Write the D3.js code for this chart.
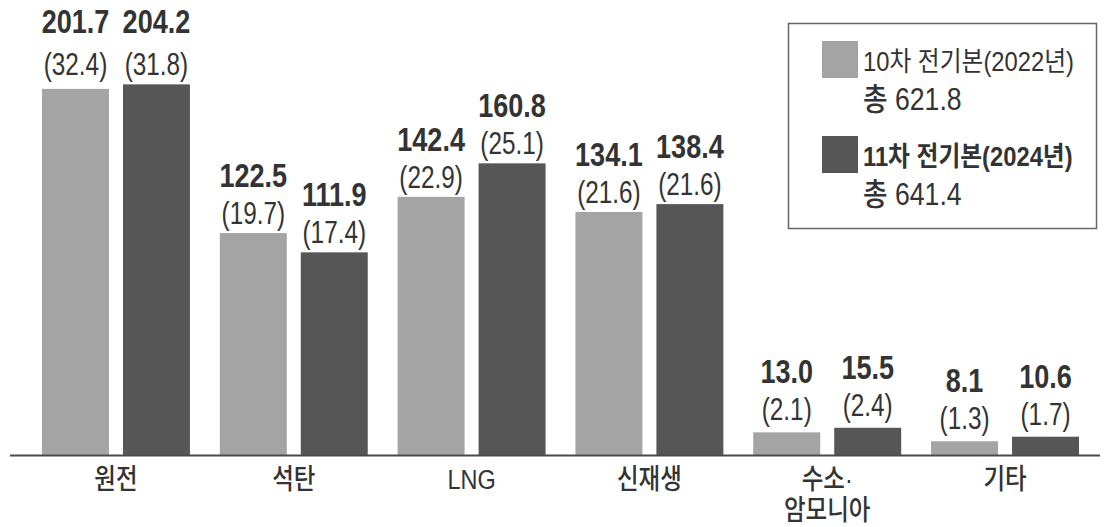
<!DOCTYPE html>
<html>
<head>
<meta charset="utf-8">
<script src="https://cdn.jsdelivr.net/npm/d3@7"></script>
<style>
  html, body { margin: 0; padding: 0; background: #fff; }
  svg { display: block; }
</style>
</head>
<body>
<svg id="chart" width="1108" height="527"></svg>
<script>
// ---- data ----
const categories = ["원전", "석탄", "LNG", "신재생", "수소·\n암모니아", "기타"];
const seriesNames = ["10차 전기본(2022년)", "11차 전기본(2024년)"];
const seriesTotals = ["총 621.8", "총 641.4"];
const values10 = [201.7, 122.5, 142.4, 134.1, 13.0, 8.1];
const values11 = [204.2, 111.9, 160.8, 138.4, 15.5, 10.6];
const shares10 = [32.4, 19.7, 22.9, 21.6, 2.1, 1.3];
const shares11 = [31.8, 17.4, 25.1, 21.6, 2.4, 1.7];

// ---- layout / style ----
const W = 1108, H = 527;
const baseY = 456;
const pxPerUnit = 1.82;
const colors = ["#a4a4a4", "#565656"];
const textColor = "#333";
const FONT = "'Liberation Sans', Arial, 'Noto Sans CJK KR', sans-serif";

const svg = d3.select("#chart");

const x0 = d3.scaleBand().domain(categories).range([42, 1079]).paddingInner(0.168).paddingOuter(0);
const x1 = d3.scaleBand().domain([0, 1]).range([0, x0.bandwidth()]).paddingInner(0.173).paddingOuter(0);
const yMax = 220;
const y = d3.scaleLinear().domain([0, yMax]).range([baseY, baseY - yMax * pxPerUnit]);

const rows = categories.map((c, i) => ({
  cat: c,
  vals: [values10[i], values11[i]],
  shares: [shares10[i], shares11[i]]
}));

// bars
const groups = svg.append("g").selectAll("g").data(rows).join("g")
  .attr("transform", d => `translate(${x0(d.cat)},0)`);

groups.selectAll("rect").data(d => d.vals.map((v, k) => ({ v, k }))).join("rect")
  .attr("x", d => x1(d.k))
  .attr("width", x1.bandwidth())
  .attr("y", d => y(d.v))
  .attr("height", d => baseY - y(d.v))
  .attr("fill", d => colors[d.k]);

// value labels
groups.each(function (d, gi) {
  const g = d3.select(this);
  // the first group's labels are aligned to the taller bar
  const alignGroup = gi === 0;
  const groupTop = y(d3.max(d.vals));
  d.vals.forEach((v, k) => {
    const top = alignGroup ? groupTop : y(v);
    const cx = x1(k) + x1.bandwidth() / 2;
    const parenY = top - (v < 20 ? 12 : 9);
    const mainY = parenY - (alignGroup ? 42 : 37);
    g.append("text")
      .attr("transform", `translate(${cx},${mainY}) scale(0.82,1)`)
      .attr("text-anchor", "middle")
      .attr("font-family", FONT)
      .attr("font-weight", "bold")
      .attr("font-size", 33)
      .attr("fill", textColor)
      .text(d3.format(".1f")(v));
    g.append("text")
      .attr("transform", `translate(${cx},${parenY}) scale(0.76,1)`)
      .attr("text-anchor", "middle")
      .attr("font-family", FONT)
      .attr("font-size", 32)
      .attr("fill", textColor)
      .text(`(${d3.format(".1f")(d.shares[k])})`);
  });
});

// axis line
svg.append("line")
  .attr("x1", 10).attr("x2", 1100)
  .attr("y1", baseY - 0.5).attr("y2", baseY - 0.5)
  .attr("stroke", "#4a4a4a").attr("stroke-width", 2);

// category labels
const xAxis = d3.axisBottom(x0).tickSize(0).tickPadding(0);
const axisG = svg.append("g").attr("transform", `translate(0,${baseY})`).call(xAxis);
axisG.select(".domain").remove();
axisG.selectAll(".tick text").each(function (d) {
  const t = d3.select(this);
  const lines = d.split("\n");
  t.text(null)
    .attr("y", null).attr("dy", null)
    .attr("transform", "translate(0,33) scale(0.84,1)")
    .attr("font-family", FONT)
    .attr("font-size", 28)
    .attr("font-weight", 500)
    .attr("fill", textColor)
    .attr("text-anchor", "middle");
  lines.forEach((ln, i) => {
    t.append("tspan").attr("x", 0).attr("y", i * 31).text(ln);
  });
});

// legend
const legend = svg.append("g");
legend.append("rect")
  .attr("x", 788.5).attr("y", 23.5).attr("width", 308).attr("height", 205)
  .attr("fill", "#fff").attr("stroke", "#666").attr("stroke-width", 1.5);
seriesNames.forEach((name, k) => {
  const top = 41 + k * 95;
  legend.append("rect")
    .attr("x", 822).attr("y", top).attr("width", 36).attr("height", 37)
    .attr("fill", colors[k]);
  legend.append("text")
    .attr("transform", `translate(863,${top + 30}) scale(0.88,1)`)
    .attr("font-family", FONT)
    .attr("font-size", 27)
    .attr("font-weight", k === 1 ? "bold" : "normal")
    .attr("fill", textColor)
    .text(name);
  legend.append("text")
    .attr("transform", `translate(863,${top + 69}) scale(0.86,1)`)
    .attr("font-family", FONT)
    .attr("font-size", 31)
    .attr("font-weight", 500)
    .attr("fill", textColor)
    .text(seriesTotals[k]);
});
</script>
</body>
</html>
